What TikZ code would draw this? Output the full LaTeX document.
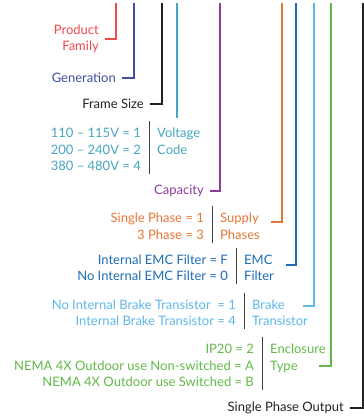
\documentclass[tikz,border=0pt]{standalone}
\usepackage{fontspec}
\setmainfont{Lato}
\usetikzlibrary{positioning}
\definecolor{cfam}{HTML}{F04A4A}
\definecolor{cgen}{HTML}{3F4FA3}
\definecolor{cframe}{HTML}{222222}
\definecolor{cvolt}{HTML}{46A5BF}
\definecolor{ccap}{HTML}{8E3A9E}
\definecolor{cphase}{HTML}{E87636}
\definecolor{cemc}{HTML}{1E6DB6}
\definecolor{cbrake}{HTML}{5DB7E8}
\definecolor{cencl}{HTML}{62B947}
\tikzstyle{lead} = [line width=2pt]
\tikzstyle{lbl} = [anchor=east, inner xsep=6pt, inner ysep=0pt, align=right]
\tikzstyle{vals} = [anchor=east, inner xsep=8pt, inner ysep=3pt, align=right]
\tikzstyle{head} = [anchor=north west, inner xsep=8pt, inner ysep=3pt, align=left]
\tikzstyle{sep} = [draw=black!75, line width=.8pt]

\begin{document}
\begin{tikzpicture}[x=1pt,y=-1pt,font=\fontsize{13}{16.5}\selectfont]
\useasboundingbox (0,0) rectangle (364,418);
% tops of the leads
\coordinate (t1) at (116,3);
\coordinate (t2) at (134,3);
\coordinate (t3) at (162,3);
\coordinate (t4) at (177,3);
\coordinate (t5) at (220,3);
\coordinate (t6) at (282,3);
\coordinate (t7) at (296,3);
\coordinate (t8) at (314,3);
\coordinate (t9) at (331,3);
\coordinate (t10) at (362.5,3);
% single labels
\node[lbl, text=cfam] (fam) at (105,39) {Product\\Family};
\node[lbl, text=cgen] (gen) at (122,78) {Generation};
\node[lbl, text=cframe] (frame) at (150,104) {Frame Size};
\node[lbl, text=ccap] (cap) at (210,191) {Capacity};
\node[lbl, text=cframe] (out) at (350,408) {Single Phase Output};
% code groups
\node[vals, text=cvolt] (volt) at (149,149.5) {110 -- 115V = 1\\200 -- 240V = 2\\380 -- 480V = 4};
\node[head, text=cvolt] (volth) at (volt.north east) {Voltage\\Code};
\node[vals, text=cphase] (phase) at (212,226.5) {Single Phase = 1\\3 Phase = 3};
\node[head, text=cphase] (phaseh) at (phase.north east) {Supply\\Phases};
\node[vals, text=cemc] (emc) at (236,268) {Internal EMC Filter = F\\No Internal EMC Filter = 0};
\node[head, text=cemc] (emch) at (emc.north east) {EMC\\Filter};
\node[vals, text=cbrake] (brake) at (244,313) {No Internal Brake Transistor\ \ = 1\\Internal Brake Transistor = 4};
\node[head, text=cbrake] (brakeh) at (brake.north east) {Brake\\Transistor};
\node[vals, text=cencl] (encl) at (262,365.5) {IP20 = 2\\NEMA 4X Outdoor use Non-switched = A\\NEMA 4X Outdoor use Switched = B};
\node[head, text=cencl] (enclh) at (encl.north east) {Enclosure\\Type};
\foreach \g in {volt,phase,emc,brake,encl}
  \draw[sep] ([yshift=4pt]\g.north east) -- (\g.south east);
% ends of the leads
\coordinate (e4) at (177,118);
\coordinate (e6) at (271,222);
\coordinate (e7) at (286,265);
\coordinate (e8) at (303,306);
\coordinate (e9) at (319,366);
% leads
\draw[lead, cfam] (t1) |- (fam.east);
\draw[lead, cgen] (t2) |- (gen.east);
\draw[lead, cframe] (t3) |- (frame.east);
\draw[lead, cvolt] (t4) -- (e4);
\draw[lead, ccap] (t5) |- (cap.east);
\draw[lead, cphase] (t6) |- (e6);
\draw[lead, cemc] (t7) |- (e7);
\draw[lead, cbrake] (t8) |- (e8);
\draw[lead, cencl] (t9) |- (e9);
\draw[lead, cframe] (t10) |- (out.east);
\end{tikzpicture}
\end{document}
